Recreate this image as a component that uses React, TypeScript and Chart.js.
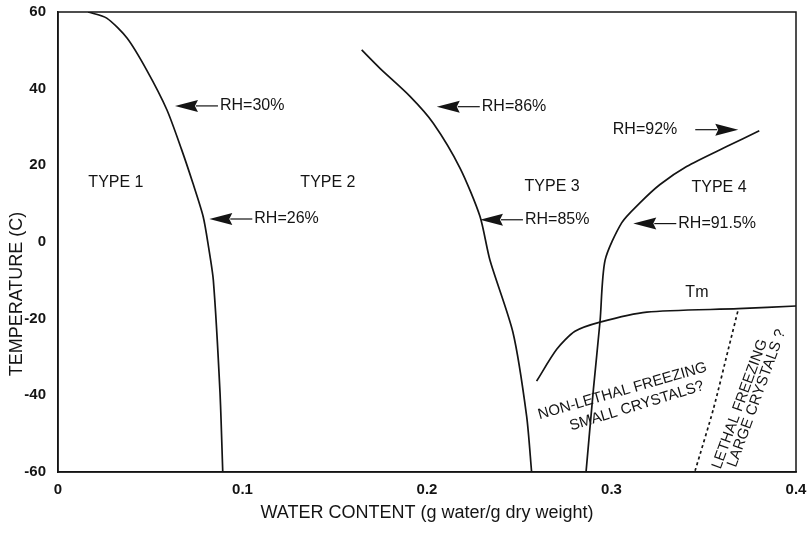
import React, { useEffect, useRef } from "react";
import { Chart, registerables } from "chart.js";

Chart.register(...registerables);

// ---- data ----
const xTicks = [0, 0.1, 0.2, 0.3, 0.4];
const xTickLabels = ["0", "0.1", "0.2", "0.3", "0.4"];
const yTicks = [-60, -40, -20, 0, 20, 40, 60];
const yTickLabels = ["-60", "-40", "-20", "0", "20", "40", "60"];

const type12X = [0.0163, 0.0264, 0.0374, 0.048, 0.059, 0.067, 0.073, 0.0787, 0.0815, 0.0842, 0.0878, 0.0893];
const type12Y = [60, 58.4, 53.2, 44.9, 34.5, 24.1, 15.5, 6.6, -1, -10, -39.2, -60];

const type23X = [0.1646, 0.1745, 0.1908, 0.2034, 0.2179, 0.2287, 0.2341, 0.2466, 0.254, 0.2567];
const type23Y = [50.1, 45.3, 38, 31, 19.3, 6.7, -4.7, -23.6, -45.4, -60];

const type34X = [0.2862, 0.2902, 0.2938, 0.2965, 0.3055, 0.3154, 0.3263, 0.3407, 0.3624, 0.3801];
const type34Y = [-60, -38.4, -20.6, -4.8, 5, 10.2, 15, 19.7, 24.9, 29];

const tmX = [0.2594, 0.2703, 0.2802, 0.2938, 0.3191, 0.3687, 0.4];
const tmY = [-36.3, -28, -23.3, -20.9, -18.3, -17.4, -16.7];

const lethalX = [0.3453, 0.3552, 0.3633, 0.3687];
const lethalY = [-59.7, -43.6, -28, -17.6];

// region labels
const typeLabels = ["TYPE 1", "TYPE 2", "TYPE 3", "TYPE 4", "Tm"];
const typeLabelX = [0.0314, 0.1463, 0.2678, 0.3583, 0.3463];
const typeLabelY = [15.5, 15.5, 14.4, 14.1, -13.2];

// RH arrows: tip location, direction (-1 = points left, text on right)
const rhLabels = ["RH=30%", "RH=26%", "RH=86%", "RH=85%", "RH=91.5%", "RH=92%"];
const rhTipX = [0.0634, 0.082, 0.2053, 0.2287, 0.3118, 0.3687];
const rhTipY = [35.5, 6.0, 35.3, 5.8, 4.8, 29.3];
const rhDir = [-1, -1, -1, -1, -1, 1];

// rotated notes
const noteLines = ["NON-LETHAL FREEZING", "SMALL CRYSTALS?", "LETHAL FREEZING", "LARGE CRYSTALS ?"];
const noteX = [0.306, 0.3137, 0.3696, 0.3787];
const noteY = [-38.9, -42.8, -42.3, -40.8];
const noteAngle = [-16, -17, -70, -70];

const xTitle = "WATER CONTENT (g water/g dry weight)";
const yTitle = "TEMPERATURE (C)";

const FONT = '"Liberation Sans", Arial, Helvetica, sans-serif';
const INK = "#141414";

const toPts = (xs: number[], ys: number[]) => xs.map((x, i) => ({ x, y: ys[i] }));

const annotPlugin = {
  id: "annot",
  afterDatasetsDraw(chart: any) {
    const { ctx, chartArea, scales } = chart;
    const xs = scales.x;
    const ys = scales.y;
    ctx.save();
    // frame
    ctx.strokeStyle = INK;
    ctx.lineWidth = 1.5;
    ctx.strokeRect(chartArea.left, chartArea.top, chartArea.right - chartArea.left, chartArea.bottom - chartArea.top);

    ctx.fillStyle = INK;
    ctx.textBaseline = "middle";

    // type labels
    ctx.font = `16px ${FONT}`;
    ctx.textAlign = "center";
    typeLabels.forEach((t, i) => {
      ctx.fillText(t, xs.getPixelForValue(typeLabelX[i]), ys.getPixelForValue(typeLabelY[i]));
    });

    // RH arrows
    const headLen = 23;
    const shaft = 20;
    const halfH = 6;
    ctx.font = `16px ${FONT}`;
    rhLabels.forEach((t, i) => {
      const tx = xs.getPixelForValue(rhTipX[i]);
      const ty = ys.getPixelForValue(rhTipY[i]);
      const d = -rhDir[i]; // direction from tip toward tail
      const bx = tx + d * headLen;
      ctx.beginPath();
      ctx.moveTo(tx, ty);
      ctx.lineTo(bx, ty - halfH);
      ctx.lineTo(bx - d * 3, ty);
      ctx.lineTo(bx, ty + halfH);
      ctx.closePath();
      ctx.fill();
      ctx.lineWidth = 1.2;
      ctx.beginPath();
      ctx.moveTo(bx - d * 2, ty);
      ctx.lineTo(bx + d * shaft, ty);
      ctx.stroke();
      const textX = bx + d * (shaft + 2);
      ctx.textAlign = d > 0 ? "left" : "right";
      if (d < 0) {
        ctx.fillText(t, textX - 16, ty);
      } else {
        ctx.fillText(t, textX, ty);
      }
    });

    // rotated notes
    ctx.font = `15px ${FONT}`;
    ctx.textAlign = "center";
    noteLines.forEach((t, i) => {
      ctx.save();
      ctx.translate(xs.getPixelForValue(noteX[i]), ys.getPixelForValue(noteY[i]));
      ctx.rotate((noteAngle[i] * Math.PI) / 180);
      ctx.fillText(t, 0, 0);
      ctx.restore();
    });

    // axis titles
    ctx.font = `18px ${FONT}`;
    ctx.textAlign = "center";
    ctx.fillText(xTitle, (chartArea.left + chartArea.right) / 2, chartArea.bottom + 41);
    ctx.save();
    ctx.translate(17, chartArea.top + 282);
    ctx.rotate(-Math.PI / 2);
    ctx.fillText(yTitle, 0, 0);
    ctx.restore();

    ctx.restore();
  },
};

const zeroPad = (s: any) => {
  s.paddingTop = 0;
  s.paddingBottom = 0;
  s.paddingLeft = 0;
  s.paddingRight = 0;
};

export default function App() {
  const ref = useRef<HTMLCanvasElement | null>(null);
  useEffect(() => {
    document.body.style.margin = "0";
    if (!ref.current) return;
    const line = (xs: number[], ys: number[], dash?: number[]) => ({
      data: toPts(xs, ys),
      showLine: true,
      pointRadius: 0,
      borderColor: INK,
      borderWidth: 1.7,
      borderDash: dash || [],
      tension: 0.25,
      fill: false,
    });
    const chart = new Chart(ref.current, {
      type: "scatter",
      data: {
        datasets: [
          line(type12X, type12Y),
          line(type23X, type23Y),
          line(type34X, type34Y),
          line(tmX, tmY),
          line(lethalX, lethalY, [3, 3]),
        ] as any,
      },
      options: {
        animation: false,
        responsive: true,
        maintainAspectRatio: false,
        layout: { padding: { top: 12, right: 12, left: 0, bottom: 0 } },
        plugins: { legend: { display: false }, tooltip: { enabled: false } },
        events: [],
        scales: {
          x: {
            type: "linear",
            min: 0,
            max: 0.4,
            afterBuildTicks: (s: any) => {
              s.ticks = xTicks.map((v) => ({ value: v }));
            },
            afterFit: (s: any) => {
              s.height = 63;
              zeroPad(s);
            },
            ticks: {
              padding: 9,
              color: INK,
              font: { family: FONT, size: 15, weight: "bold" },
              maxRotation: 0,
              callback: (_v: any, i: number) => xTickLabels[i],
            },
            grid: { display: false, drawTicks: false },
            border: { display: true, color: INK, width: 1.5 },
          },
          y: {
            type: "linear",
            min: -60,
            max: 60,
            afterBuildTicks: (s: any) => {
              s.ticks = yTicks.map((v) => ({ value: v }));
            },
            afterFit: (s: any) => {
              s.width = 58;
              zeroPad(s);
            },
            ticks: {
              padding: 12,
              color: INK,
              font: { family: FONT, size: 15, weight: "bold" },
              callback: (_v: any, i: number) => yTickLabels[i],
            },
            grid: { display: false, drawTicks: false },
            border: { display: true, color: INK, width: 1.5 },
          },
        },
      } as any,
      plugins: [annotPlugin],
    });
    return () => chart.destroy();
  }, []);
  return (
    <div style={{ position: "relative", width: 808, height: 535, background: "#fff" }}>
      <canvas ref={ref} />
    </div>
  );
}
